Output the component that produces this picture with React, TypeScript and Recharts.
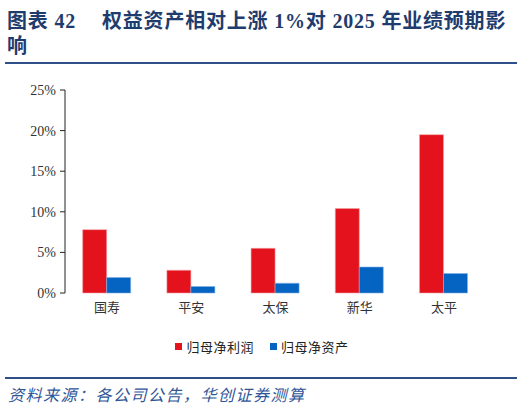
import { BarChart, Bar, XAxis, YAxis } from "recharts";

// companies and the two series (% change in 2025 forecast for +1% equity assets)
const companies = ["国寿", "平安", "太保", "新华", "太平"];
const netProfit = [7.8, 2.8, 5.5, 10.4, 19.5];
const netAssets = [1.9, 0.8, 1.2, 3.2, 2.4];
const seriesNames = ["归母净利润", "归母净资产"];
const seriesColors = ["#e3121c", "#0563c1"];
const yTicks = [0, 5, 10, 15, 20, 25];
const boundaryTicks = [0, 1, 2, 3, 4, 5];

const chartData = companies.map((name, i) => ({
    name,
    profit: netProfit[i],
    assets: netAssets[i],
}));

const navy = "#1f3c6e";

/*
Bar chart comparing the impact on net profit and net assets
*/
function App() {
    return (
        <div style={{ position: "absolute", left: 0, top: 0, width: 524, height: 408, background: "#fff", overflow: "hidden" }}>
            <div style={{
                position: "absolute", left: 7, top: 9, width: 515,
                fontFamily: "'Liberation Serif', 'Noto Sans CJK SC', serif",
                fontWeight: 700, fontSize: 20, letterSpacing: 0.8, lineHeight: "25px", color: navy,
                whiteSpace: "nowrap",
            }}>
                <div>图表 42<span style={{ display: "inline-block", width: 26 }} />权益资产相对上涨 1%对 2025 年业绩预期影</div>
                <div>响</div>
            </div>
            <div style={{ position: "absolute", left: 5, top: 62, width: 512, height: 2, background: "#2e4f88" }} />

            <div style={{ position: "absolute", left: 0, top: 70 }}>
                <BarChart width={524} height={260} data={chartData}
                    margin={{ top: 20, right: 38, bottom: 7, left: 0 }}
                    barCategoryGap="21%" barGap={0}>

                    <XAxis xAxisId="grid" type="number"
                        domain={[0, 5]}
                        ticks={boundaryTicks}
                        height={0}
                        tickSize={5}
                        tickFormatter={() => ""}
                        stroke="#222"
                        allowDataOverflow />

                    <XAxis xAxisId="cat" dataKey="name"
                        axisLine={false}
                        tickLine={false}
                        tickSize={0}
                        tickMargin={10}
                        height={30}
                        tick={{ fontSize: 13, fill: "#333", fontFamily: "'Noto Sans CJK SC'" }} />

                    <YAxis domain={[0, 25]}
                        ticks={yTicks}
                        width={65}
                        tickSize={5}
                        tickMargin={4}
                        stroke="#222"
                        tickFormatter={(v) => `${v}%`}
                        tick={{ fontSize: 14, fill: "#333", fontFamily: "'Liberation Serif'" }} />

                    <Bar xAxisId="cat" dataKey="profit" name={seriesNames[0]}
                        fill={seriesColors[0]} stroke="#f4a0a4" strokeWidth={0.6}
                        isAnimationActive={false} />
                    <Bar xAxisId="cat" dataKey="assets" name={seriesNames[1]}
                        fill={seriesColors[1]} stroke="#7fb0e6" strokeWidth={0.6}
                        isAnimationActive={false} />
                </BarChart>
            </div>

            <div style={{
                position: "absolute", left: 0, top: 337, width: 524, display: "flex", justifyContent: "center",
                gap: 16, fontFamily: "'Noto Sans CJK SC'", fontSize: 13, letterSpacing: 0.5, color: "#222",
            }}>
                {seriesNames.map((s, i) => (
                    <span key={s} style={{ display: "flex", alignItems: "center", gap: 4 }}>
                        <span style={{ width: 7, height: 7, background: seriesColors[i], display: "inline-block" }} />
                        {s}
                    </span>
                ))}
            </div>

            <div style={{ position: "absolute", left: 5, top: 377, width: 512, height: 2, background: "#2e4f88" }} />
            <div style={{
                position: "absolute", left: 8, top: 382, fontFamily: "'Noto Sans CJK SC'",
                fontStyle: "italic", fontSize: 16, letterSpacing: 1.5, color: "#2f5597",
            }}>
                资料来源：各公司公告，华创证券测算
            </div>
        </div>
    );
}

export default App;
